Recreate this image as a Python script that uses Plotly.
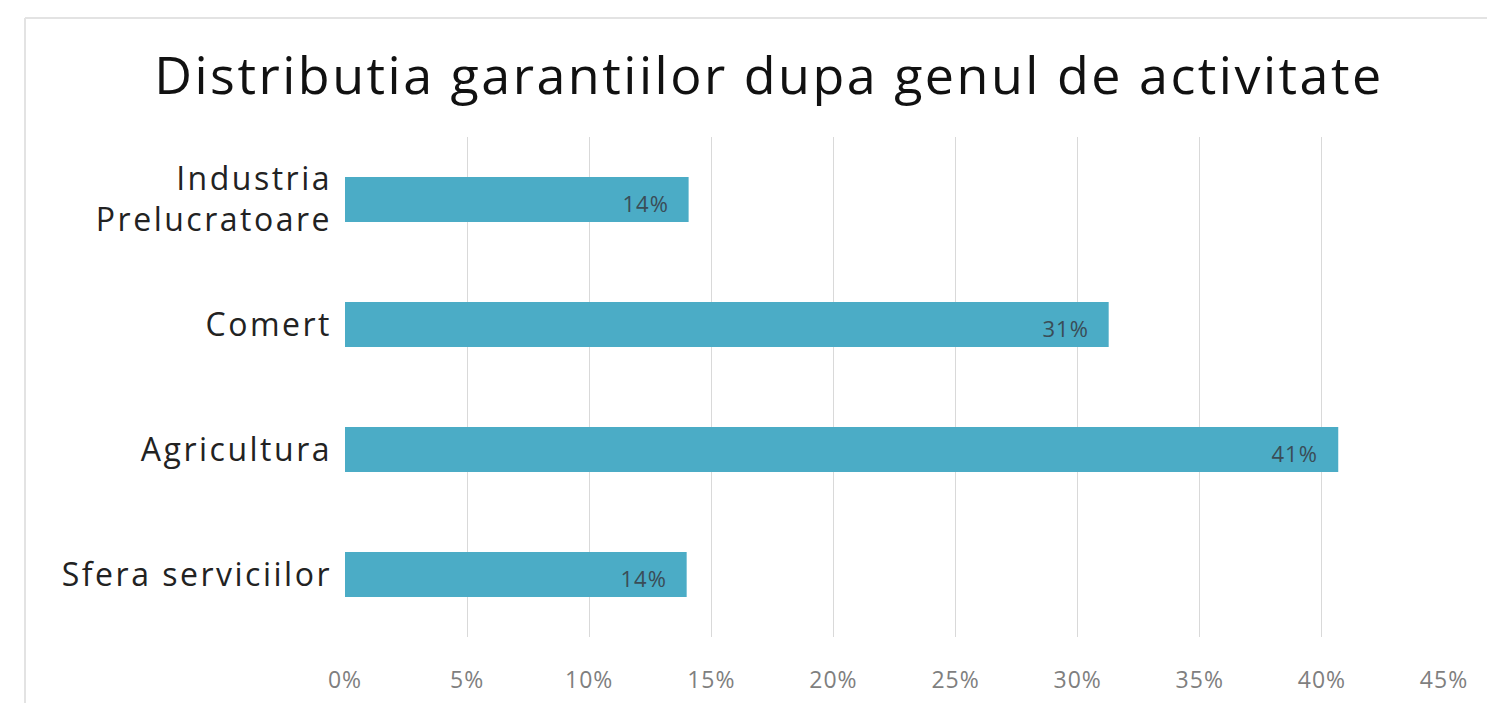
import plotly.graph_objects as go

# ---- data ----
categories = ["Industria<br>Prelucratoare", "Comert", "Agricultura", "Sfera serviciilor"]
values = [0.1407, 0.3127, 0.4067, 0.1399]
value_labels = ["14%", "31%", "41%", "14%"]
x_tickvals = [0, 0.05, 0.10, 0.15, 0.20, 0.25, 0.30, 0.35, 0.40, 0.45]
x_ticktext = ["0%", "5%", "10%", "15%", "20%", "25%", "30%", "35%", "40%", "45%"]
title_text = "Distributia garantiilor dupa genul de activitate"

W, H = 1487, 703
L, R, T, B = 345, 43, 137, 66
PW, PH = W - L - R, H - T - B

def px_x(p):
    return (p - L) / PW

def px_y(p):
    return (H - B - p) / PH

FONT = "Open Sans"
BAR = "#4BACC6"

fig = go.Figure()
fig.add_trace(go.Bar(
    x=values, y=categories, orientation="h",
    marker=dict(color=BAR, line=dict(width=0)),
    hoverinfo="skip", showlegend=False,
))

for v, c, t in zip(values, categories, value_labels):
    fig.add_annotation(
        x=v, y=c, xref="x", yref="y", text=t, showarrow=False,
        xanchor="right", yanchor="middle", xshift=-20, yshift=-3,
        font=dict(family=FONT, size=22, color="#3a4d57"),
    )

# chart frame (light gray border, top and left visible)
frame = dict(color="#e3e3e3", width=2)
fig.add_shape(type="line", xref="paper", yref="paper",
              x0=px_x(25), x1=px_x(W + 5), y0=px_y(18), y1=px_y(18), line=frame)
fig.add_shape(type="line", xref="paper", yref="paper",
              x0=px_x(25), x1=px_x(25), y0=px_y(18), y1=px_y(H + 5), line=frame)

fig.update_layout(
    width=W, height=H,
    margin=dict(l=L, r=R, t=T, b=B, autoexpand=False),
    paper_bgcolor="white", plot_bgcolor="white",
    bargap=0.64,
    title=dict(text=title_text, x=769 / W, xref="container", xanchor="center",
               y=1 - 76 / H, yref="container", yanchor="middle",
               font=dict(family=FONT, size=52, color="#111111")),
    xaxis=dict(range=[0, 0.45], tickvals=x_tickvals, ticktext=x_ticktext,
               showgrid=True, gridcolor="#d9d9d9", gridwidth=1,
               zeroline=False, showline=False, ticks="",
               ticklabelstandoff=27,
               tickfont=dict(family=FONT, size=23, color="#7f7f7f"),
               fixedrange=True),
    yaxis=dict(autorange="reversed", showgrid=False, zeroline=False,
               showline=False, ticks="", ticklabelstandoff=12,
               tickfont=dict(family=FONT, size=32, color="#222222"),
               fixedrange=True),
)

post = """
(function(){
  var gd = document.getElementById('{plot_id}');
  function sp(sel, v){ gd.querySelectorAll(sel).forEach(function(e){ e.style.letterSpacing = v; }); }
  sp('.gtitle', '2.5px');
  sp('.ytick text', '2.5px');
  sp('.xtick text', '1px');
  sp('.annotation-text', '1px');
})();
"""

fig.write_html("out.html", post_script=post)
